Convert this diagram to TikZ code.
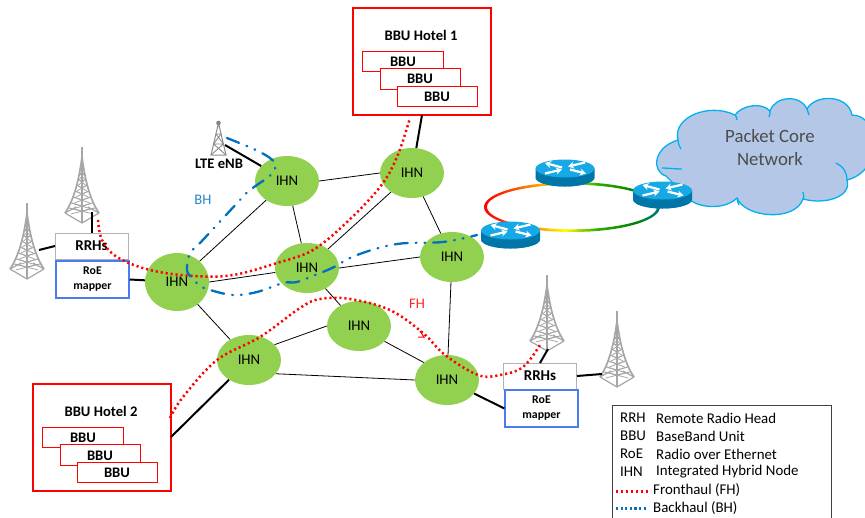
\documentclass[tikz,border=0pt]{standalone}
\usepackage{fontspec}
\setmainfont{Carlito}
\usetikzlibrary{shapes.geometric,arrows.meta}
\definecolor{ihn}{HTML}{92D050}
\definecolor{bhblue}{HTML}{0070C0}
\definecolor{towergray}{HTML}{A6A6A6}
\definecolor{cloudfill}{HTML}{B4C7E7}
\definecolor{cloudline}{HTML}{00B0F0}
\definecolor{routertop}{HTML}{16A9E6}
\definecolor{routerside}{HTML}{0076A8}
\definecolor{roeblue}{HTML}{4A7CF0}
\pgfdeclarehorizontalshading{rainbowring}{100bp}{color(0bp)=(red);color(25bp)=(red);color(28bp)=(red!85!orange);color(40bp)=(orange!80!yellow);color(48bp)=(yellow);color(57bp)=(green!60!black!80!yellow);color(68bp)=(green!50!black);color(75bp)=(teal);color(100bp)=(teal)}
\tikzset{
  ihnnode/.style={ellipse,fill=ihn,minimum width=64pt,minimum height=50pt,inner sep=0pt,font=\fontsize{14.8}{16}\selectfont},
  thinlink/.style={line width=0.8pt,black},
  thicklink/.style={line width=2pt,black},
  fhline/.style={red,line width=2.5pt,dash pattern=on 2.1pt off 2.9pt},
  bhline/.style={bhblue,line width=2.3pt,line cap=round,dash pattern=on 13pt off 8pt on 0.8pt off 8pt on 0.8pt off 8pt},
  hotelbox/.style={draw=red,line width=1.5pt,fill=white,minimum width=138pt,minimum height=107pt,inner sep=0pt},
  bbubox/.style={draw=red,line width=0.9pt,fill=white,minimum width=80.5pt,minimum height=20.5pt,inner sep=0pt},
  boldtext/.style={font=\fontsize{14.6}{16}\selectfont\bfseries,inner sep=0pt},
  rrhbox/.style={draw=black!30,line width=1pt,fill=white,minimum width=73pt,minimum height=26pt,inner sep=0pt,font=\fontsize{15}{16}\selectfont\bfseries},
  roebox/.style={draw=roeblue,line width=1.3pt,fill=white,minimum width=73pt,minimum height=37pt,inner sep=0pt,align=center,font=\fontsize{11.8}{15}\selectfont\bfseries},
  towerspot/.style={minimum width=34pt,minimum height=76pt,inner sep=0pt},
  legendtext/.style={anchor=west,inner sep=0pt,font=\fontsize{14.9}{16}\selectfont},
  tallmast/.pic={
    \draw[towergray,line width=1.3pt] (0,-38) -- (0,38);
    \draw[towergray,line width=1.7pt] (0,-28) .. controls (-3,-5) and (-8,15) .. (-17,28) (0,-28) .. controls (3,-5) and (8,15) .. (17,28);
    \draw[towergray,line width=1.2pt] (-17,28) -- (-6,22) (17,28) -- (6,22) (-17,28) -- (0,38) -- (17,28);
    \foreach \yy/\ww in {-17/1.8,-12/2.6,-6/3.8,0/5.2,6/6.8,12/8.5,18/10.5,23/12.5}{
      \draw[towergray,line width=0.9pt] (-\ww,\yy) -- (0,\yy+3) -- (\ww,\yy);
      \draw[towergray,line width=0.8pt] (-\ww,\yy) -- (\ww*0.9,\yy+6) (\ww,\yy) -- (-\ww*0.9,\yy+6);
    }
  },
  smallmast/.pic={
    \fill[gray] (0,0) circle (2.3pt);
    \draw[gray!90,line width=1pt] (0,0) -- (-7.5,32) -- (7.5,32) -- (0,0);
    \draw[gray!90,line width=0.9pt] (-2.5,11) -- (2.5,11) -- (-5,21) -- (5,21) -- (-2.5,11) (5,21) -- (-7.5,32) (-5,21) -- (7.5,32);
  },
  routerpic/.pic={
    \fill[routerside] (-29.5,-4.5) -- (-29.5,4.5) arc[start angle=180,end angle=360,x radius=29.5,y radius=-9] -- (29.5,-4.5) -- cycle;
    \fill[routerside] (-29.5,4.5) arc[start angle=180,end angle=0,x radius=29.5,y radius=9] -- cycle;
    \fill[routertop] (0,-4.5) ellipse[x radius=29.5,y radius=9];
    \draw[white,line width=2.2pt,-{Stealth[length=6pt,width=7pt]}] (-3,-5.5) -- (-20,-10);
    \draw[white,line width=2.2pt,-{Stealth[length=6pt,width=7pt]}] (5,-3.5) -- (21,0.5);
    \draw[white,line width=2.2pt,-{Stealth[length=6pt,width=7pt]}] (20,-10.5) -- (3,-6.5);
    \draw[white,line width=2.2pt,-{Stealth[length=6pt,width=7pt]}] (-20,0.5) -- (-3,-3.5);
  }
}
\begin{document}
\begin{tikzpicture}[x=1pt,y=-1pt]
\useasboundingbox (0,0) rectangle (865,517);
\clip (0,0) rectangle (865,517);

% cloud
\draw[fill=cloudfill,draw=cloudline,line width=1.3pt]
  (666,176) .. controls (652,172) and (652,148) .. (678,140)
  .. controls (672,118) and (708,102) .. (735,115)
  .. controls (742,105) and (762,102) .. (770,111)
  .. controls (775,96) and (800,94) .. (807,109)
  .. controls (815,94) and (848,94) .. (852,115)
  .. controls (880,115) and (885,170) .. (847,180)
  .. controls (852,197) and (825,205) .. (803,199)
  .. controls (795,222) and (745,218) .. (737,198)
  .. controls (725,210) and (700,208) .. (690,200)
  -- cycle;
\draw[cloudline,line width=1.3pt]
  (662,168) .. controls (668,168) and (675,169) .. (682,169)
  (678,140) .. controls (678,143) and (679,146) .. (681,149)
  (735,115) .. controls (736,116) and (737,118) .. (737,120)
  (770,111) .. controls (770,113) and (770,115) .. (769,117)
  (807,109) .. controls (808,111) and (808,113) .. (809,115)
  (836,163) .. controls (844,167) and (847,173) .. (847,180)
  (803,192) .. controls (804,195) and (804,197) .. (803,200)
  (737,198) .. controls (737,200) and (738,203) .. (739,205);
\node[inner sep=0pt,text=black!70,align=center,font=\fontsize{18.8}{23}\selectfont] (core) at (770,148) {Packet Core\\Network};

% ring
\path[even odd rule,shading=rainbowring,shading angle=0]
  (572,207) ellipse[x radius=88,y radius=25]
  (572,207) ellipse[x radius=85,y radius=22.3];
\coordinate (rtA) at (565,173);
\coordinate (rtB) at (662.5,195);
\coordinate (rtC) at (510.5,235);
\pic at (rtA) {routerpic};
\pic at (rtB) {routerpic};
\pic at (rtC) {routerpic};

% IHN nodes
\node[ihnnode,minimum width=64pt,minimum height=58pt] (ihnA) at (177,282) {IHN};
\node[ihnnode] (ihnB) at (287,181) {IHN};
\node[ihnnode] (ihnC) at (412,173) {IHN};
\node[ihnnode] (ihnD) at (307,268) {IHN};
\node[ihnnode] (ihnE) at (452,257) {IHN};
\node[ihnnode] (ihnF) at (359,326) {IHN};
\node[ihnnode] (ihnG) at (249,360) {IHN};
\node[ihnnode] (ihnH) at (447,380) {IHN};

\draw[thinlink] (ihnA) -- (ihnB);
\draw[thinlink] (ihnA.0) -- (ihnD.188);
\draw[thinlink] (ihnA) -- (ihnG);
\draw[thinlink] (ihnB.east) -- (ihnC.west);
\draw[thinlink] (ihnB) -- (ihnD);
\draw[thinlink] (ihnC) -- (ihnD);
\draw[thinlink] (ihnC) -- (ihnE);
\draw[thinlink] (ihnD.east) -- (ihnE.west);
\draw[thinlink] (ihnD) -- (ihnF);
\draw[thinlink] (ihnE) -- (ihnH);
\draw[thinlink] (ihnF.west) -- (ihnG.31);
\draw[thinlink] (ihnF.-31) -- (ihnH.143);
\draw[thinlink] (ihnG.-27) -- (ihnH.west);

% towers
\node[towerspot] (twA) at (27,241) {};
\node[towerspot] (twB) at (82,185) {};
\node[towerspot] (twC) at (547,313) {};
\node[towerspot] (twD) at (617,349) {};
\pic at (twA) {tallmast};
\pic at (twB) {tallmast};
\pic at (twC) {tallmast};
\pic at (twD) {tallmast};
\coordinate (enbtop) at (218.5,123);
\pic at (enbtop) {smallmast};
\node[boldtext] (enb) at (219,164) {LTE eNB};

% boxes
\node[rrhbox] (rrhL) at (91.5,246) {RRHs};
\node[roebox] (roeL) at (92.5,279.5) {RoE\\mapper};
\node[rrhbox] (rrhR) at (540,376) {RRHs};
\node[roebox] (roeR) at (541.5,408.5) {RoE\\mapper};

\node[hotelbox] (hotelA) at (422,61.5) {};
\node[boldtext] at (421,35) {BBU Hotel 1};
\node[bbubox] (bA1) at (403,61.5) {};
\node[boldtext] at (403,62) {BBU};
\node[bbubox] (bA2) at (420.5,79) {};
\node[boldtext] at (420,79) {BBU};
\node[bbubox] (bA3) at (437.5,96.5) {};
\node[boldtext] at (437,97) {BBU};

\node[hotelbox] (hotelB) at (102,437.5) {};
\node[boldtext] at (101,411) {BBU Hotel 2};
\node[bbubox] (bB1) at (83,437.5) {};
\node[boldtext] at (83,438) {BBU};
\node[bbubox] (bB2) at (100.5,455) {};
\node[boldtext] at (100,456) {BBU};
\node[bbubox] (bB3) at (117.5,472.5) {};
\node[boldtext] at (117,473) {BBU};

% thick links
\coordinate (twAfoot) at (39,250);
\coordinate (twBfoot) at (92,212);
\coordinate (twCfoot) at (548,349);
\coordinate (twDfoot) at (602,374);
\coordinate (enbfoot) at (225,145);
\coordinate (hotelAlow) at (422,115);
\coordinate (hotelBside) at (171,437);
\coordinate (rrhLside) at (55,246);
\coordinate (rrhRtop) at (540,363);
\draw[thicklink] (enbfoot) -- (ihnB);
\draw[thicklink] (twBfoot) -- (twBfoot |- rrhL.north);
\draw[thicklink] (twAfoot) -- (rrhLside);
\draw[thicklink] (roeL.east) -- (ihnA);
\draw[thicklink] (ihnC) -- (hotelAlow);
\draw[thicklink] (ihnG) -- (hotelBside);
\draw[thicklink] (ihnH) -- (roeR.west);
\draw[thicklink] (twCfoot) -- (rrhRtop);
\draw[thicklink] (rrhR.east) -- (twDfoot);

% fronthaul
\draw[fhline] plot[smooth,tension=0.6] coordinates {(98,220) (102,240) (117,257) (150,270) (193,276) (233,275) (277,263) (313,250) (347,222) (380,187) (397,157) (410,118)};
\draw[fhline] plot[smooth,tension=0.6] coordinates {(170,418) (183,397) (217,360) (260,337) (300,308) (320,299) (350,299) (390,310) (423,333) (445,355) (478,375) (500,375) (523,367) (540,345)};
\draw[red,line width=1pt] (420,331) -- (424,337) -- (418,337);

% backhaul
\draw[bhline] plot[smooth,tension=0.6] coordinates {(227,138) (260,152) (275,163) (273,172) (267,178) (250,190) (240,200) (200,243) (190,253) (187,270) (192,278) (198,284) (207,289) (233,295) (257,292) (283,283) (297,282) (315,275) (332,268) (357,255) (397,244) (443,242) (477,235)};

\node[text=bhblue!85!white,inner sep=0pt,font=\fontsize{14.6}{16}\selectfont] (bhlabel) at (203,200) {BH};
\node[text=red!85!white,inner sep=0pt,font=\fontsize{14.6}{16}\selectfont] (fhlabel) at (417,304) {FH};

% legend
\node[draw=black!75,line width=1pt,fill=white,anchor=north west,minimum width=219pt,minimum height=125pt,inner sep=0pt] (legend) at (612,405) {};
\node[legendtext] at (620,418) {RRH};
\node[legendtext] at (656,418) {Remote Radio Head};
\node[legendtext] at (620,436) {BBU};
\node[legendtext] at (656,436) {BaseBand Unit};
\node[legendtext] at (620,454) {RoE};
\node[legendtext] at (656,454) {Radio over Ethernet};
\node[legendtext] at (620,472) {IHN};
\node[legendtext] at (656,472) {Integrated Hybrid Node};
\node[legendtext] (fhtext) at (653,490) {Fronthaul (FH)};
\node[legendtext] (bhtext) at (653,508) {Backhaul (BH)};
\coordinate (fhstart) at (616,491.5);
\coordinate (bhstart) at (616,508.5);
\coordinate (fhend) at (648,491.5);
\coordinate (bhend) at (648,508.5);
\draw[fhline,line width=2.2pt] (fhstart) -- (fhend);
\draw[bhblue,line width=2.2pt,dash pattern=on 2.2pt off 2.4pt] (bhstart) -- (bhend);
\end{tikzpicture}
\end{document}
